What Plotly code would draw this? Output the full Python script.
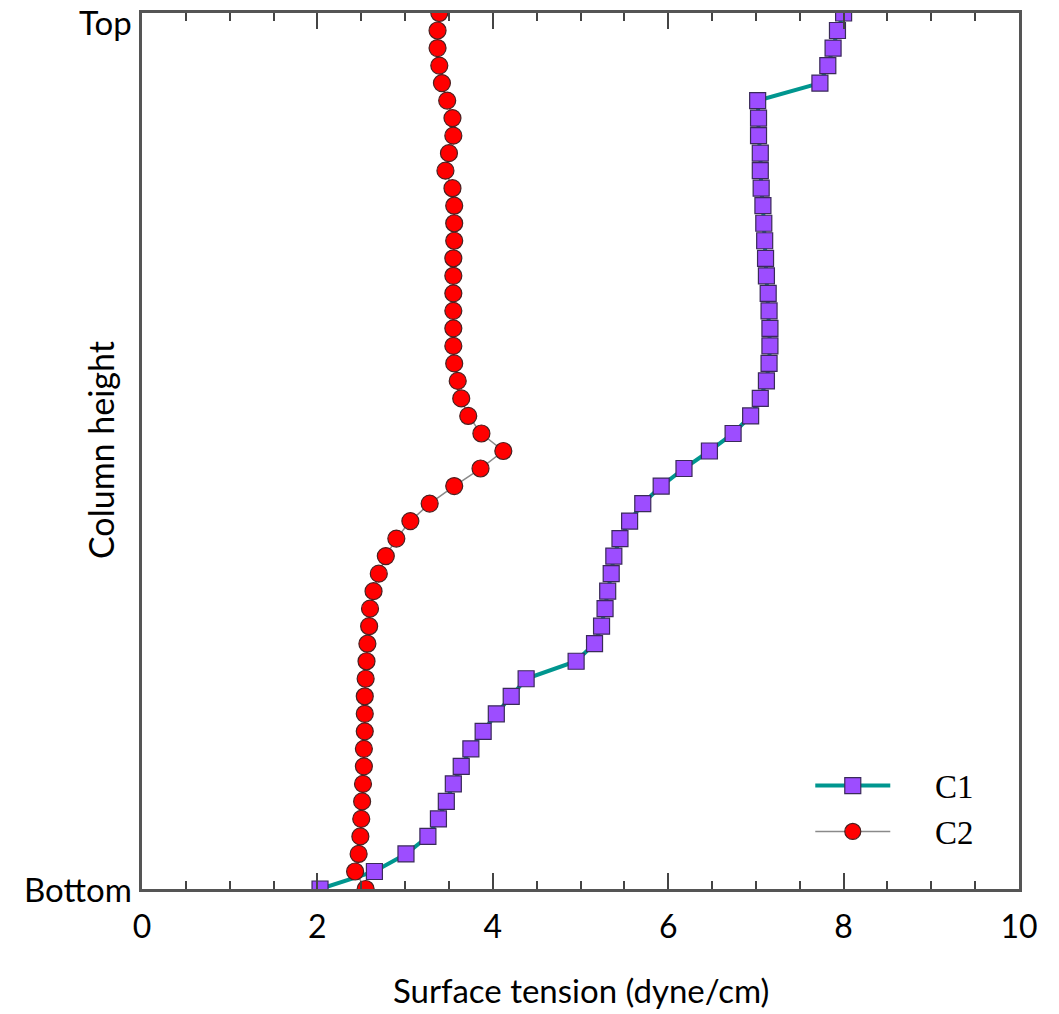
import plotly.graph_objects as go

# Column positions: index 0 = Bottom, 50 = Top
heights = list(range(50, -1, -1))  # listed from top to bottom

# C1 surface tension, from top (Top) to bottom (Bottom)
c1 = [8.00, 7.93, 7.88, 7.82, 7.73, 7.02, 7.03, 7.03, 7.05, 7.05,
      7.06, 7.08, 7.09, 7.10, 7.11, 7.12, 7.14, 7.15, 7.16, 7.16,
      7.15, 7.12, 7.05, 6.94, 6.74, 6.47, 6.18, 5.92, 5.71, 5.56,
      5.45, 5.38, 5.35, 5.31, 5.28, 5.24, 5.16, 4.95, 4.38, 4.21,
      4.04, 3.89, 3.75, 3.64, 3.55, 3.47, 3.38, 3.26, 3.01, 2.65,
      2.03]

# C2 surface tension, from top to bottom
c2 = [3.39, 3.37, 3.37, 3.39, 3.42, 3.48, 3.54, 3.55, 3.50, 3.46,
      3.54, 3.56, 3.56, 3.56, 3.55, 3.55, 3.55, 3.55, 3.55, 3.55,
      3.56, 3.60, 3.64, 3.72, 3.87, 4.12, 3.86, 3.56, 3.28, 3.06,
      2.90, 2.78, 2.70, 2.64, 2.60, 2.59, 2.57, 2.56, 2.55, 2.54,
      2.54, 2.54, 2.53, 2.53, 2.52, 2.51, 2.50, 2.49, 2.47, 2.43,
      2.55]

x_ticks = [0, 2, 4, 6, 8, 10]
y_tickvals = [0, 50]
y_ticktext = ["Bottom", "Top"]
y_label_shift = [0, -9]

W, H = 1059, 1014
ml, mr, mt, mb = 142, 40, 13, 125
pw, ph = W - ml - mr, H - mt - mb

fig = go.Figure()
fig.add_trace(go.Scatter(
    x=c1, y=heights, name="\u2003\u2009C1", mode="lines+markers",
    line=dict(color="#00968f", width=4),
    marker=dict(symbol="square", size=16, color="#9d4dff",
                line=dict(color="#3a2a5a", width=1.2)),
))
fig.add_trace(go.Scatter(
    x=c2, y=heights, name="\u2003\u2009C2", mode="lines+markers",
    line=dict(color="#8a8a8a", width=1.5),
    marker=dict(symbol="circle", size=17, color="#ff0000",
                line=dict(color="#4a2020", width=1.2)),
))

annotations = [
    dict(text="Surface tension (dyne/cm)", xref="paper", yref="paper",
         x=(581 - ml) / pw, y=(H - mb - 990) / ph,
         xanchor="center", yanchor="middle", showarrow=False,
         font=dict(family="Lato", size=33, color="black")),
    dict(text="Column height", textangle=-90, xref="paper", yref="paper",
         x=(101 - ml) / pw, y=(H - mb - 450) / ph,
         xanchor="center", yanchor="middle", showarrow=False,
         font=dict(family="Lato", size=34, color="black")),
]
# y-axis category labels drawn at their data positions
for v, t, s in zip(y_tickvals, y_ticktext, y_label_shift):
    annotations.append(dict(text=t, xref="paper", yref="y", x=0, y=v,
                            xanchor="right", yanchor="middle", xshift=-8,
                            yshift=s, showarrow=False,
                            font=dict(family="Lato", size=33, color="black")))

fig.update_layout(
    width=W, height=H,
    margin=dict(l=ml, r=mr, t=mt, b=mb),
    plot_bgcolor="white", paper_bgcolor="white",
    font=dict(family="Lato", size=26, color="black"),
    showlegend=True,
    legend=dict(
        x=0.762, y=0.150, xanchor="left", yanchor="top",
        bgcolor="rgba(0,0,0,0)", itemwidth=75,
        font=dict(family="Liberation Serif", size=33, color="black"),
        tracegroupgap=0, itemsizing="trace",
    ),
    annotations=annotations,
)

fig.update_xaxes(
    range=[0, 10], tickvals=x_ticks, ticktext=[str(v) for v in x_ticks],
    ticks="inside", ticklen=16, tickwidth=1.5, tickcolor="#444",
    minor=dict(dtick=0.5, ticks="inside", ticklen=8, tickwidth=1.5, tickcolor="#444"),
    showline=True, linecolor="#555", linewidth=2.5, mirror="ticks",
    showgrid=False, zeroline=False, automargin=False,
    tickfont=dict(family="Lato", size=32),
    ticklabelstandoff=8,
)
fig.update_yaxes(
    range=[0, 50], showticklabels=False,
    ticks="", showline=True, linecolor="#555", linewidth=2.5, mirror=True,
    showgrid=False, zeroline=False, automargin=False,
)

fig.write_html("out.html")
